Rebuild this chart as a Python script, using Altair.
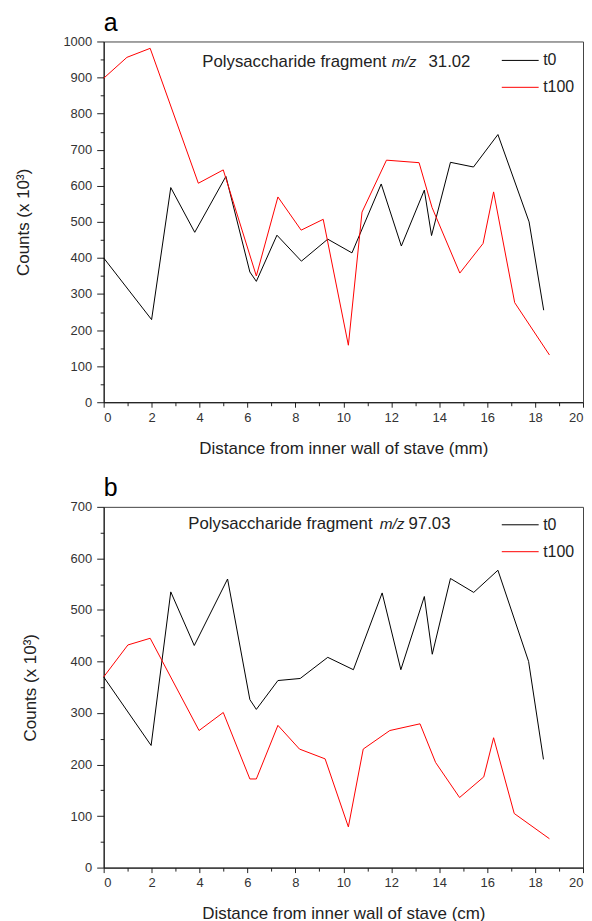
import altair as alt
import pandas as pd

# ---------------- data ----------------
series_names = ["t0", "t100"]
series_colors = ["#000000", "#ff0000"]

a_t0_x = [0.0, 2.0, 2.8, 3.8, 5.1, 6.1, 6.37, 7.23, 8.25, 9.35, 10.36, 11.58, 12.42, 13.38, 13.68, 14.47, 15.43, 16.45, 17.75, 18.36]
a_t0_y = [400, 229, 595, 471, 626, 361, 335, 463, 391, 452, 414, 605, 433, 588, 462, 665, 652, 742, 500, 255]

a_t100_x = [0.0, 0.97, 1.94, 3.95, 4.99, 6.37, 7.27, 8.24, 9.16, 10.21, 10.78, 11.8, 13.16, 13.7, 14.86, 15.83, 16.27, 17.15, 18.6]
a_t100_y = [898, 956, 981, 607, 644, 350, 569, 477, 507, 158, 527, 671, 664, 540, 358, 440, 583, 276, 131]

b_t0_x = [0.0, 1.98, 2.8, 3.78, 5.17, 6.1, 6.37, 7.27, 8.2, 9.35, 10.42, 11.62, 12.4, 13.38, 13.71, 14.47, 15.44, 16.45, 17.73, 18.35]
b_t0_y = [370, 237, 535, 431, 560, 326, 307, 363, 367, 408, 384, 533, 384, 526, 414, 561, 534, 577, 400, 210]

b_t100_x = [0.0, 1.01, 1.94, 3.98, 4.99, 6.1, 6.37, 7.27, 8.17, 9.24, 10.21, 10.83, 11.94, 13.2, 13.85, 14.85, 15.86, 16.27, 17.13, 18.6]
b_t100_y = [370, 432, 445, 266, 301, 172, 172, 276, 230, 211, 79, 230, 266, 279, 204, 136, 176, 252, 105, 56]

panel_labels = ["a", "b"]
y_max = [1000, 700]
x_titles = ["Distance from inner wall of stave (mm)", "Distance from inner wall of stave (cm)"]
y_title = "Counts (x 10³)"
annot_main = "Polysaccharide fragment"
annot_italic = "m/z"
annot_values = ["31.02", "97.03"]

FONT = "Liberation Sans"
W, H = 481, 362


def long_df(x0, y0, x1, y1):
    rows = [{"x": x, "y": y, "series": series_names[0]} for x, y in zip(x0, y0)]
    rows += [{"x": x, "y": y, "series": series_names[1]} for x, y in zip(x1, y1)]
    return pd.DataFrame(rows)


def panel(df, ymax, xtitle, label, value_text, ann_x, ann_y, leg_x, leg_y):
    x_axis = alt.Axis(
        values=list(range(0, 21)),
        labelExpr="datum.value % 2 === 0 ? datum.label : ''",
        labelOverlap=False,
        tickSize={"condition": {"test": "datum.value % 2 === 0", "value": 5}, "value": 3.5},
        tickColor="#222", domainColor="#111", labelColor="#333",
        labelFont=FONT, labelFontSize=13, labelPadding=4,
        title=xtitle, titleFont=FONT, titleFontSize=17, titleFontWeight="normal",
        titleColor="#222", titlePadding=16, grid=False,
    )
    y_axis = alt.Axis(
        values=list(range(0, ymax + 1, 50)),
        labelExpr="datum.value % 100 === 0 ? datum.label : ''",
        labelOverlap=False,
        tickSize={"condition": {"test": "datum.value % 100 === 0", "value": 7}, "value": 3.5},
        tickColor="#222", domainColor="#111", labelColor="#333",
        labelFont=FONT, labelFontSize=13, labelPadding=5,
        title=y_title, titleFont=FONT, titleFontSize=17, titleFontWeight="normal",
        titleColor="#222", titlePadding=31, grid=False, format="d",
    )
    lines = alt.Chart(df).mark_line(strokeWidth=1).encode(
        x=alt.X("x:Q", scale=alt.Scale(domain=[0, 20], nice=False), axis=x_axis),
        y=alt.Y("y:Q", scale=alt.Scale(domain=[0, ymax], nice=False), axis=y_axis),
        color=alt.Color(
            "series:N",
            scale=alt.Scale(domain=series_names, range=series_colors),
            legend=alt.Legend(
                orient="none", legendX=leg_x, legendY=leg_y, title=None,
                symbolType="stroke", symbolSize=1369, symbolStrokeWidth=1,
                labelFont=FONT, labelFontSize=16, labelColor="#222",
                labelOffset=4, padding=0, rowPadding=-11,
            ),
        ),
    )
    txt_n = pd.DataFrame({"t": [annot_main, value_text], "px": [ann_x[0], ann_x[2]]})
    txt_i = pd.DataFrame({"t": [annot_italic], "px": [ann_x[1]]})
    ann_n = alt.Chart(txt_n).mark_text(
        align="left", baseline="middle", font=FONT, fontSize=16.8, color="#222"
    ).encode(text="t:N", x=alt.X("px:Q", scale=None), y=alt.value(ann_y))
    ann_i = alt.Chart(txt_i).mark_text(
        align="left", baseline="middle", font=FONT, fontSize=15.5, color="#222",
        fontStyle="italic",
    ).encode(text="t:N", x=alt.X("px:Q", scale=None), y=alt.value(ann_y))
    return alt.layer(lines, ann_n, ann_i).properties(
        width=W, height=H,
        title=alt.TitleParams(label, anchor="start", frame="group", fontSize=25,
                              fontWeight="normal", font=FONT, color="#000",
                              offset=0),
    )


df_a = long_df(a_t0_x, a_t0_y, a_t100_x, a_t100_y)
df_b = long_df(b_t0_x, b_t0_y, b_t100_x, b_t100_y)

pa = panel(df_a, y_max[0], x_titles[0], panel_labels[0], annot_values[0],
           [99, 289, 326], 21, 399, 0)
pb = panel(df_b, y_max[1], x_titles[1], panel_labels[1], annot_values[1],
           [85, 277, 306], 17, 399, -1)

chart = alt.vconcat(pa, pb, spacing=18).resolve_scale(
    color="independent", x="independent", y="independent"
).resolve_legend(color="independent").properties(
    padding={"left": 5, "top": 0, "right": 0, "bottom": 0}
).configure_view(stroke="#444", strokeWidth=1)

chart.save("out.html", embed_options={"renderer": "svg", "actions": False})
